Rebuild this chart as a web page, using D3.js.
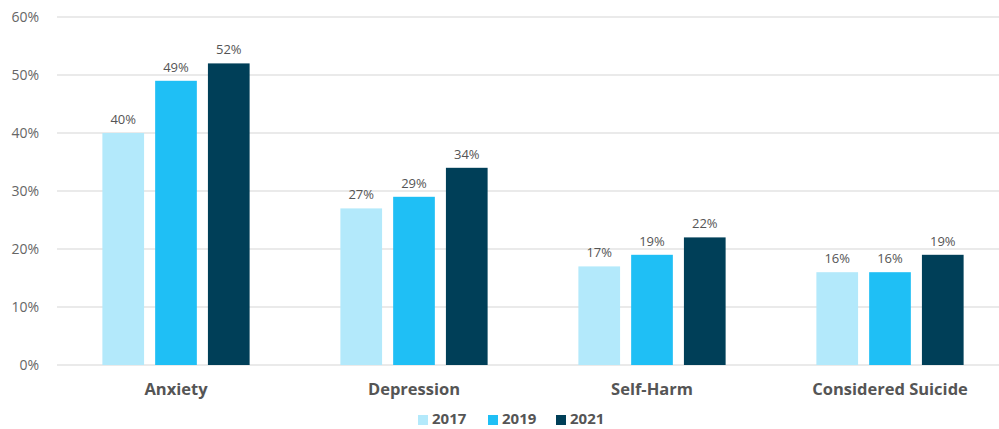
<!DOCTYPE html>
<html><head><meta charset="utf-8">
<script src="https://cdn.jsdelivr.net/npm/d3@7"></script>
<style>
html,body{margin:0;padding:0;background:#fff;overflow:hidden}
text{font-family:"Open Sans",sans-serif}
</style></head>
<body><svg id="c" width="999" height="429"></svg>
<script>
const categories = ["Anxiety","Depression","Self-Harm","Considered Suicide"];
const seriesNames = ["2017","2019","2021"];
const v2017 = [40,27,17,16];
const v2019 = [49,29,19,16];
const v2021 = [52,34,22,19];
const yTicks = [0,10,20,30,40,50,60];
const colors = ["#b3e9fb","#1fbff5","#003f58"];

const series = [v2017,v2019,v2021];
const svg = d3.select("#c");
const x0 = d3.scaleBand().domain(categories).range([57,1009]).paddingInner(0).paddingOuter(0);
const x1 = d3.scaleBand().domain(seriesNames).range([0,x0.bandwidth()]).paddingInner(0.21).paddingOuter(0.86);
const y = d3.scaleLinear().domain([0,60]).range([365,17]);

// grid
svg.append("g").selectAll("line").data(yTicks).join("line")
  .attr("x1",57).attr("x2",999).attr("y1",d=>y(d)).attr("y2",d=>y(d))
  .attr("stroke","#e3e3e3").attr("stroke-width",1.5);

// y axis labels
const yAxis = d3.axisLeft(y).tickValues(yTicks).tickFormat(d=>d+"%").tickSize(0).tickPadding(0);
const ya = svg.append("g").attr("transform","translate(39,0)").call(yAxis);
ya.select(".domain").remove();
ya.selectAll("text").attr("fill","#666").style("font-size","14px").attr("font-family","Open Sans, sans-serif");

// bars
const groups = svg.append("g").selectAll("g").data(categories).join("g")
  .attr("transform",d=>`translate(${x0(d)},0)`);
groups.each(function(cat,ci){
  const g = d3.select(this);
  seriesNames.forEach((s,si)=>{
    const val = series[si][ci];
    g.append("rect").attr("x",x1(s)).attr("width",x1.bandwidth())
      .attr("y",y(val)).attr("height",y(0)-y(val)).attr("fill",colors[si]);
    g.append("text").attr("x",x1(s)+x1.bandwidth()/2).attr("y",y(val)-9)
      .attr("text-anchor","middle").attr("fill","#555").style("font-size","13px")
      .text(val+"%");
  });
});

// x axis labels
const xAxis = d3.axisBottom(x0).tickSize(0).tickPadding(0);
const xa = svg.append("g").attr("transform","translate(0,395)").call(xAxis);
xa.select(".domain").remove();
xa.selectAll("text").attr("dy","0").attr("fill","#555").style("font-size","16.5px").style("font-weight","bold").attr("font-family","Open Sans, sans-serif");

// legend
const legX = [418,488,556];
const leg = svg.append("g");
seriesNames.forEach((s,i)=>{
  leg.append("rect").attr("x",legX[i]).attr("y",415).attr("width",10).attr("height",10).attr("fill",colors[i]);
  leg.append("text").attr("x",legX[i]+14).attr("y",424).attr("fill","#555")
    .style("font-size","15px").style("font-weight","bold").text(s);
});
</script></body></html>
